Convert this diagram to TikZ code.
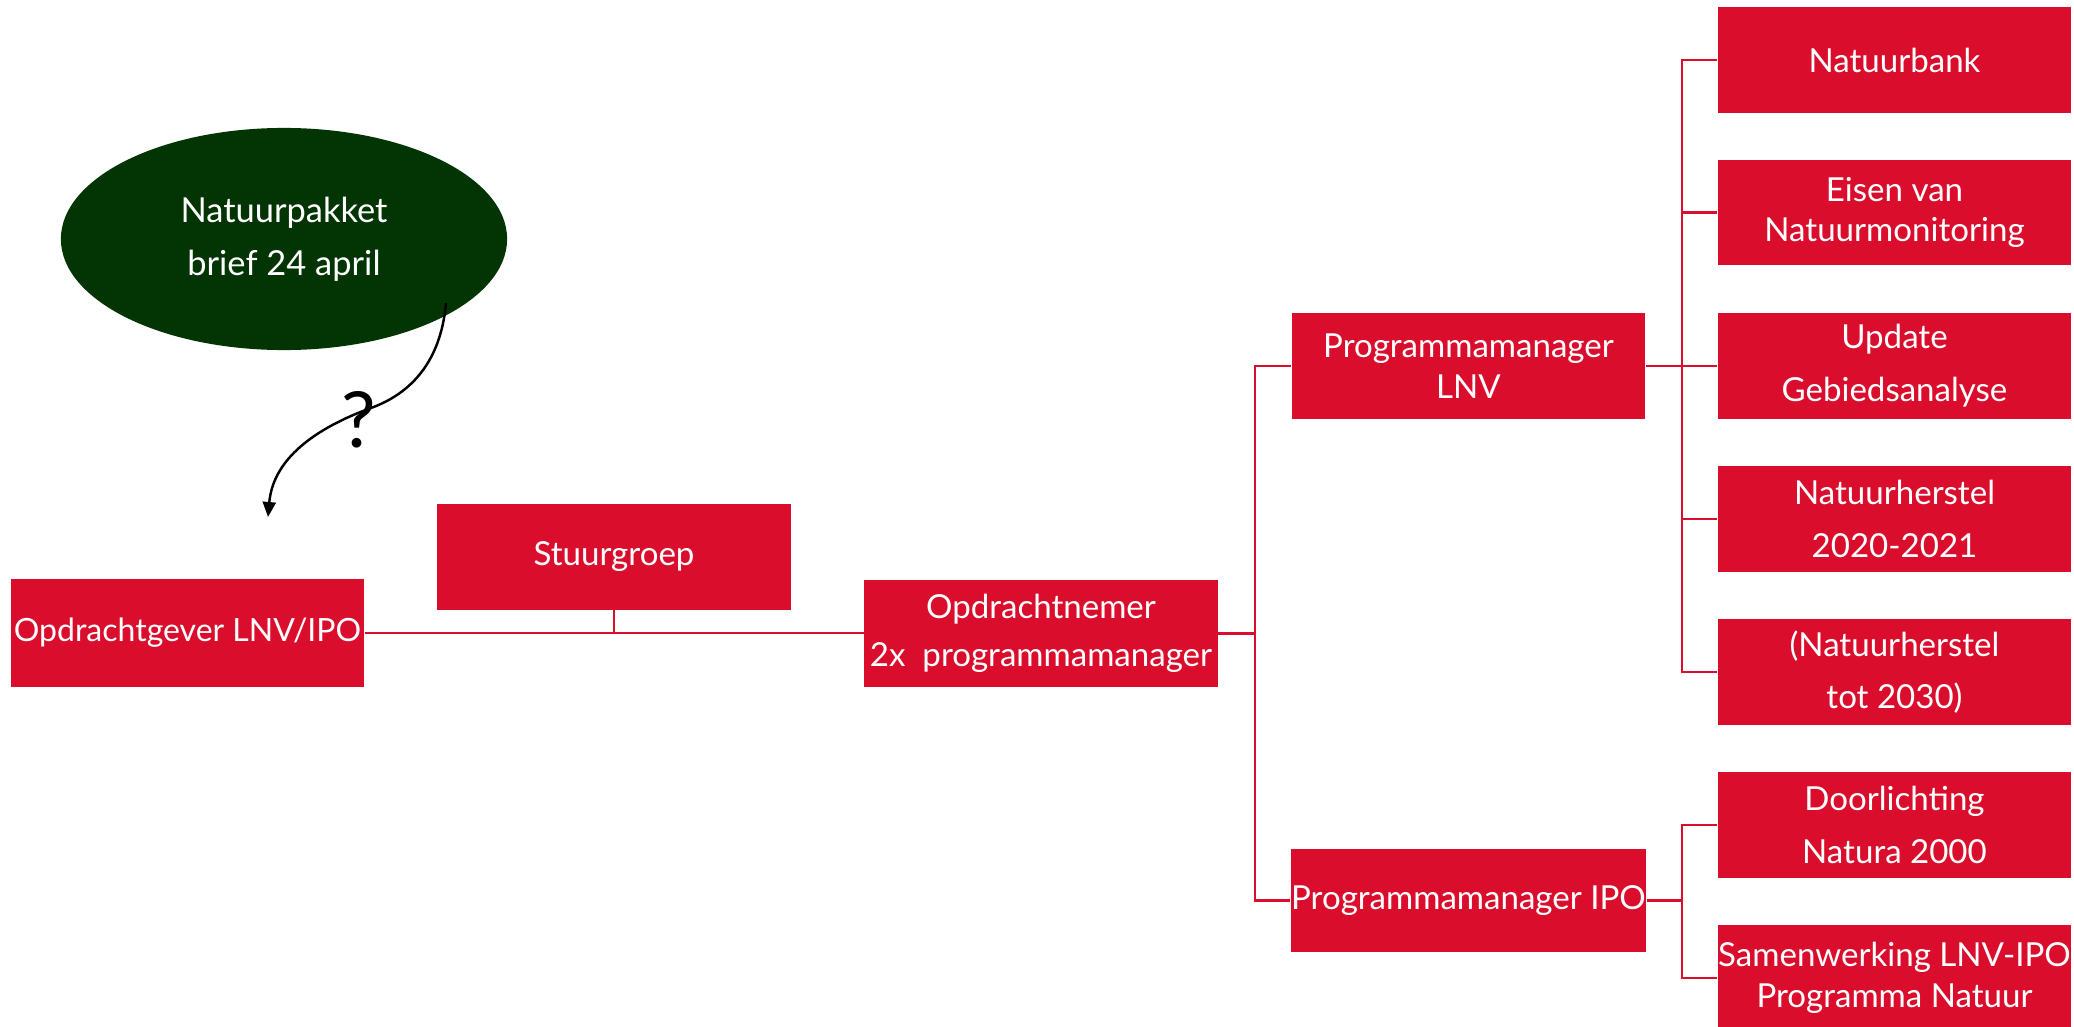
\documentclass[tikz,border=0pt]{standalone}
\usepackage{fontspec}
\setmainfont{Lato}
\usetikzlibrary{shapes.geometric,arrows.meta}

\definecolor{lnvred}{HTML}{DA0E2C}
\definecolor{pakketgreen}{HTML}{033404}

\tikzset{
  box/.style={fill=lnvred, text=white, minimum width=3.53cm, minimum height=1.05cm,
              inner sep=0pt, align=center, font=\fontsize{9.4}{11.5}\selectfont},
  link/.style={draw=lnvred, line width=0.7pt},
}

\begin{document}
\begin{tikzpicture}[x=0.01cm,y=-0.01cm]
\useasboundingbox (0,0) rectangle (2074,1027);

\node [ellipse, fill=pakketgreen, text=white, minimum width=4.46cm, minimum height=2.22cm,
       inner sep=0pt, align=center, font=\fontsize{9.8}{11.5}\selectfont]
      (pakket) at (284,239) {Natuurpakket\\[3.5pt]brief 24 april};

    \begin{scope}[every node/.style={box}]

\node (opdrachtgever) at ( 187.5,633.0) [minimum height=1.08cm, font=\fontsize{9.1}{11.5}\selectfont] {Opdrachtgever LNV/IPO};
\node (stuurgroep)    at ( 614.0,557.0) {Stuurgroep};
\node (opdrachtnemer) at (1041.0,633.5) [minimum height=1.07cm] {Opdrachtnemer\\[2pt]2x\ \ programmamanager};
\node (pm_lnv)        at (1468.5,366.0) {Programmamanager\\LNV};
\node (pm_ipo)        at (1468.5,900.5) [minimum height=1.03cm] {Programmamanager\ IPO};

\node (taak_1)    at (1894.5, 60.0) {Natuurbank};
\node (taak_2)    at (1894.5,212.5) {Eisen van\\Natuurmonitoring};
\node (taak_3)    at (1894.5,366.0) {Update\\[3.5pt]Gebiedsanalyse};
\node (taak_4)    at (1894.5,519.0) {Natuurherstel\\[3.5pt]2020-2021};
\node (taak_5)    at (1894.5,672.0) {(Natuurherstel\\[3.5pt]tot 2030)};
\node (taak_6)    at (1894.5,825.0) {Doorlichting\\[3.5pt]Natura 2000};
\node (taak_7)    at (1894.5,978.0) {Samenwerking LNV-IPO\\Programma Natuur};

    \end{scope}

\coordinate (split_pm)  at (1255.0,633.5);
\coordinate (split_lnv) at (1682.0,366.0);
\coordinate (split_ipo) at (1682.0,900.5);

\draw [link] (opdrachtgever.east) -- (opdrachtgever.east -| opdrachtnemer.west);
\draw [link] (stuurgroep.south) -- (stuurgroep.south |- opdrachtgever.east);

\draw [link] (opdrachtnemer.east) -- (split_pm);
\draw [link] (pm_lnv.west) -| (split_pm) |- (pm_ipo.west);

\draw [link] (pm_lnv.east) -- (split_lnv);
\draw [link] (split_lnv) |- (taak_1.west);
\draw [link] (split_lnv) |- (taak_2.west);
\draw [link] (split_lnv) |- (taak_3.west);
\draw [link] (split_lnv) |- (taak_4.west);
\draw [link] (split_lnv) |- (taak_5.west);

\draw [link] (pm_ipo.east) -- (split_ipo);
\draw [link] (split_ipo) |- (taak_6.west);
\draw [link] (split_ipo) |- (taak_7.west);

\coordinate (vraag_start) at (446,303);
\coordinate (vraag_mid)   at (371,408);
\coordinate (vraag_end)   at (268,517);

\draw [line width=0.7pt, -{Triangle[length=0.15cm,width=0.13cm]}]
      (vraag_start) to[out=-95,in=20] (vraag_mid) to[out=200,in=85] (vraag_end);

\node [inner sep=0pt, font=\fontsize{22}{26}\selectfont] (vraag) at (359,420) {?};

\end{tikzpicture}
\end{document}
